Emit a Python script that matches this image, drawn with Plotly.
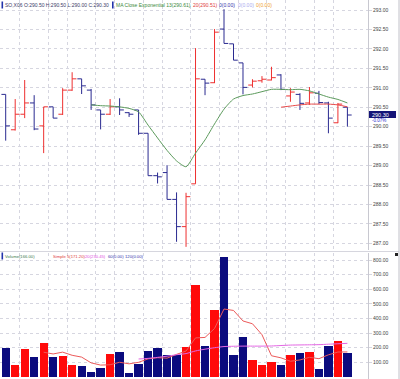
import plotly.graph_objects as go

# ---------------- data ----------------
bar_index = list(range(37))
opens = [290.83, 289.92, 290.32, 290.61, 290.02, 290.51, 290.32, 290.94, 291.23, 290.94, 290.43, 290.32, 290.51, 290.36, 290.43, 289.83, 288.74, 288.82, 288.13, 287.43, 288.53, 291.22, 291.13, 292.51, 292.13, 291.64, 291.07, 291.18, 291.20, 291.33, 290.79, 290.83, 290.61, 290.86, 290.61, 290.10, 290.50]
highs = [290.83, 290.71, 291.20, 290.81, 290.51, 290.51, 290.99, 291.40, 291.23, 290.97, 290.43, 290.71, 290.73, 290.37, 290.43, 289.83, 288.82, 289.01, 288.31, 288.30, 292.02, 291.22, 292.51, 293.02, 292.13, 291.64, 291.22, 291.30, 291.54, 291.35, 290.99, 290.86, 291.02, 290.92, 290.64, 290.61, 290.50]
lows = [289.64, 289.90, 290.22, 289.91, 289.32, 290.22, 290.30, 290.92, 290.84, 290.43, 289.93, 290.30, 290.30, 290.25, 289.79, 288.74, 288.54, 288.13, 287.04, 286.91, 288.53, 290.81, 291.12, 292.14, 291.71, 290.83, 291.01, 291.13, 291.19, 290.94, 290.64, 290.43, 290.56, 290.58, 289.83, 290.09, 290.00]
closes = [290.02, 290.32, 290.61, 289.94, 290.51, 290.22, 290.94, 291.23, 291.05, 290.56, 290.32, 290.51, 290.43, 290.32, 289.83, 288.74, 288.71, 288.13, 287.43, 288.20, 291.23, 291.12, 292.43, 292.14, 291.71, 291.01, 291.17, 291.22, 291.26, 290.96, 290.89, 290.60, 290.87, 290.62, 290.22, 290.58, 290.30]

ema13_start = 9
ema13 = [290.56, 290.54, 290.53, 290.51, 290.47, 290.38, 290.04, 289.71, 289.39, 289.12, 288.97, 289.32, 289.66, 290.07, 290.45, 290.71, 290.80, 290.84, 290.90, 290.96, 290.96, 290.95, 290.96, 290.92, 290.84, 290.76, 290.70, 290.61]
ma20_start = 29
ma20 = [290.50, 290.53, 290.56, 290.58, 290.58, 290.58, 290.56, 290.51]

volume = [198, 84, 192, 139, 233, 139, 146, 84, 77, 36, 63, 157, 169, 24, 88, 180, 198, 153, 153, 202, 630, 214, 458, 820, 153, 270, 118, 84, 100, 82, 153, 163, 173, 54, 214, 249, 166]
vol_sma5_start = 4
vol_sma5 = [169.2, 157.4, 169.8, 148.2, 135.8, 96.4, 81.2, 83.4, 100.4, 89.8, 100.2, 123.6, 131.8, 128.6, 154.4, 177.2, 267.2, 270.4, 331.4, 464.8, 455.0, 383.0, 363.8, 289.0, 145.0, 130.8, 107.4, 116.4, 134.2, 125.0, 151.4, 170.6, 171.2]
vol_sma20_start = 14
vol_sma20 = [123, 127, 134, 142, 152, 160, 178, 190, 200, 208, 210, 211, 211, 211, 212, 215, 218, 219, 220, 221, 224, 227, 230]

session_breaks = [1.5, 4.5, 6.5, 9.5, 11.5, 14.5, 16.5, 19.5, 22.5, 24.5, 27.5, 29.5, 32.5, 34.5]
price_ticks = [287.0, 287.5, 288.0, 288.5, 289.0, 289.5, 290.0, 290.5, 291.0, 291.5, 292.0, 292.5, 293.0]
volume_ticks = [100, 200, 300, 400, 500, 600, 700, 800]

# ---------------- styling ----------------
W, H = 400, 379
BLUE = "#2a2a90"
RED = "#ee3030"
VBLUE = "#0b0b7e"
VRED = "#ff0a0a"
GRID = "#d6d6e0"
FONT = "Liberation Sans, Arial, sans-serif"

def px_x(p):
    return p / W

def px_y(p):
    return 1 - p / H

price_top_px, price_bot_px = 0, 250
vol_top_px, vol_bot_px = 253, 379
plot_right_px = 368

vol_colors = [VBLUE if c < o else VRED for o, c in zip(opens, closes)]

fig = go.Figure()

fig.add_trace(go.Ohlc(
    x=bar_index, open=opens, high=highs, low=lows, close=closes,
    increasing=dict(line=dict(color=RED, width=1)),
    decreasing=dict(line=dict(color=BLUE, width=1)),
    tickwidth=0.45, xaxis="x", yaxis="y", hoverinfo="skip", showlegend=False,
))
fig.add_trace(go.Scatter(
    x=bar_index[ema13_start:], y=ema13, mode="lines",
    line=dict(color="#5b9a5b", width=1, shape="spline", smoothing=0.6),
    xaxis="x", yaxis="y", showlegend=False, hoverinfo="skip",
))
fig.add_trace(go.Scatter(
    x=bar_index[ma20_start:], y=ma20, mode="lines",
    line=dict(color="#e84848", width=1, shape="spline", smoothing=0.6),
    xaxis="x", yaxis="y", showlegend=False, hoverinfo="skip",
))
fig.add_trace(go.Bar(
    x=bar_index, y=volume, marker=dict(color=vol_colors, line=dict(width=0)),
    width=0.87, xaxis="x2", yaxis="y2", showlegend=False, hoverinfo="skip",
))
fig.add_trace(go.Scatter(
    x=bar_index[vol_sma5_start:], y=vol_sma5, mode="lines",
    line=dict(color="#ec5a5a", width=1),
    xaxis="x2", yaxis="y2", showlegend=False, hoverinfo="skip",
))
fig.add_trace(go.Scatter(
    x=bar_index[vol_sma20_start:], y=vol_sma20, mode="lines",
    line=dict(color="#e466e4", width=1, shape="spline", smoothing=0.6),
    xaxis="x2", yaxis="y2", showlegend=False, hoverinfo="skip",
))

xrange = [-0.6, 38.17]
common_x = dict(
    range=xrange, domain=[0, plot_right_px / W], tickmode="array",
    tickvals=session_breaks, showticklabels=False, ticks="",
    showgrid=True, gridcolor=GRID, griddash="dot", gridwidth=1,
    zeroline=False, showline=False, fixedrange=True,
)
axis_font = dict(family=FONT, size=5, color="#444444")

fig.update_layout(
    width=W, height=H,
    margin=dict(l=0, r=0, t=0, b=0),
    paper_bgcolor="white", plot_bgcolor="white",
    showlegend=False,
    bargap=0,
    xaxis=dict(**common_x, anchor="y", rangeslider=dict(visible=False)),
    xaxis2=dict(**common_x, anchor="y2"),
    yaxis=dict(
        domain=[1 - price_bot_px / H, 1 - price_top_px / H],
        range=[286.829, 293.257], side="right", anchor="x",
        tickmode="array", tickvals=price_ticks,
        ticktext=[f"{v:.2f}" for v in price_ticks],
        tickfont=axis_font, ticks="outside", ticklen=3, tickcolor=GRID,
        showgrid=True, gridcolor=GRID, griddash="dot", gridwidth=1,
        zeroline=False, showline=True, linecolor="#c8c8d0", linewidth=1,
        fixedrange=True,
    ),
    yaxis2=dict(
        domain=[1 - vol_bot_px / H, 1 - vol_top_px / H],
        range=[-14, 848], side="right", anchor="x2",
        tickmode="array", tickvals=volume_ticks,
        ticktext=[f"{v:.2f}" for v in volume_ticks],
        tickfont=axis_font, ticks="outside", ticklen=3, tickcolor=GRID,
        showgrid=True, gridcolor=GRID, griddash="dot", gridwidth=1,
        zeroline=False, showline=True, linecolor="#c8c8d0", linewidth=1,
        fixedrange=True,
    ),
)

def label(x, y, text, color, size=5):
    fig.add_annotation(
        x=px_x(x), y=px_y(y), xref="paper", yref="paper",
        text=text, showarrow=False, xanchor="left", yanchor="middle",
        borderpad=0, borderwidth=0,
        font=dict(family=FONT, size=size, color=color),
    )

def marker(x, y, color):
    fig.add_shape(type="rect", xref="paper", yref="paper",
                  x0=px_x(x), x1=px_x(x + 1.6), y0=px_y(y + 3.5), y1=px_y(y - 3.5),
                  fillcolor=color, line=dict(width=0))

marker(1.5, 5, "#2233aa")
label(5, 5, "SO,X06 O:290.50 H:290.50 L:290.00 C:290.30", "#3a3a66")
marker(112, 5, "#2233aa")
label(115.5, 5, "MA Close Exponential 13(290.61)", "#3c8a3c")
label(193, 5, "20(290.51)", "#e03c3c")
label(219.5, 5, "0(0.00)", "#3333aa")
label(237.5, 5, "0(0.00)", "#aaaaee")
label(255.5, 5, "0(0.00)", "#f0a030")

VL = 4.2
marker(1.5, 256, "#2233aa")
label(5, 256, "Volume(166.00)", "#3c7a4c", VL)
label(52.5, 256, "Simple 5(171.20)", "#e03c3c", VL)
label(84.5, 256, "20(230.45)", "#e050e0", VL)
label(107.5, 256, "60(0.00)", "#3333aa", VL)
label(124.5, 256, "120(0.00)", "#3333aa", VL)

# last price marker
fig.add_shape(type="rect", xref="paper", yref="paper",
              x0=px_x(369), x1=px_x(396), y0=px_y(118), y1=px_y(111),
              fillcolor="#141478", line=dict(width=0))
fig.add_annotation(x=px_x(371), y=px_y(114.5), xref="paper", yref="paper",
                   text="290.30", showarrow=False, xanchor="left", yanchor="middle",
                   borderpad=0, font=dict(family=FONT, size=5.5, color="white"))
fig.add_annotation(x=px_x(371), y=px_y(120.3), xref="paper", yref="paper",
                   text="-0.07%", showarrow=False, xanchor="left", yanchor="middle",
                   borderpad=0, font=dict(family=FONT, size=4.5, color="#2a2acc"))

# frame lines
fig.add_shape(type="line", xref="paper", yref="paper",
              x0=px_x(0), x1=px_x(399), y0=px_y(251.5), y1=px_y(251.5),
              line=dict(color="#d6d6de", width=1))
fig.add_shape(type="line", xref="paper", yref="paper",
              x0=px_x(399), x1=px_x(399), y0=0, y1=1,
              line=dict(color="#c0c0c8", width=1))
fig.add_shape(type="rect", xref="paper", yref="paper",
              x0=px_x(395), x1=px_x(398), y0=px_y(256), y1=px_y(253),
              fillcolor="#222222", line=dict(width=0))

fig.write_html(
    "out.html",
    config={"displayModeBar": False, "staticPlot": True},
    post_script="document.body.style.margin='0';document.body.style.padding='0';document.body.style.overflow='hidden';",
)
